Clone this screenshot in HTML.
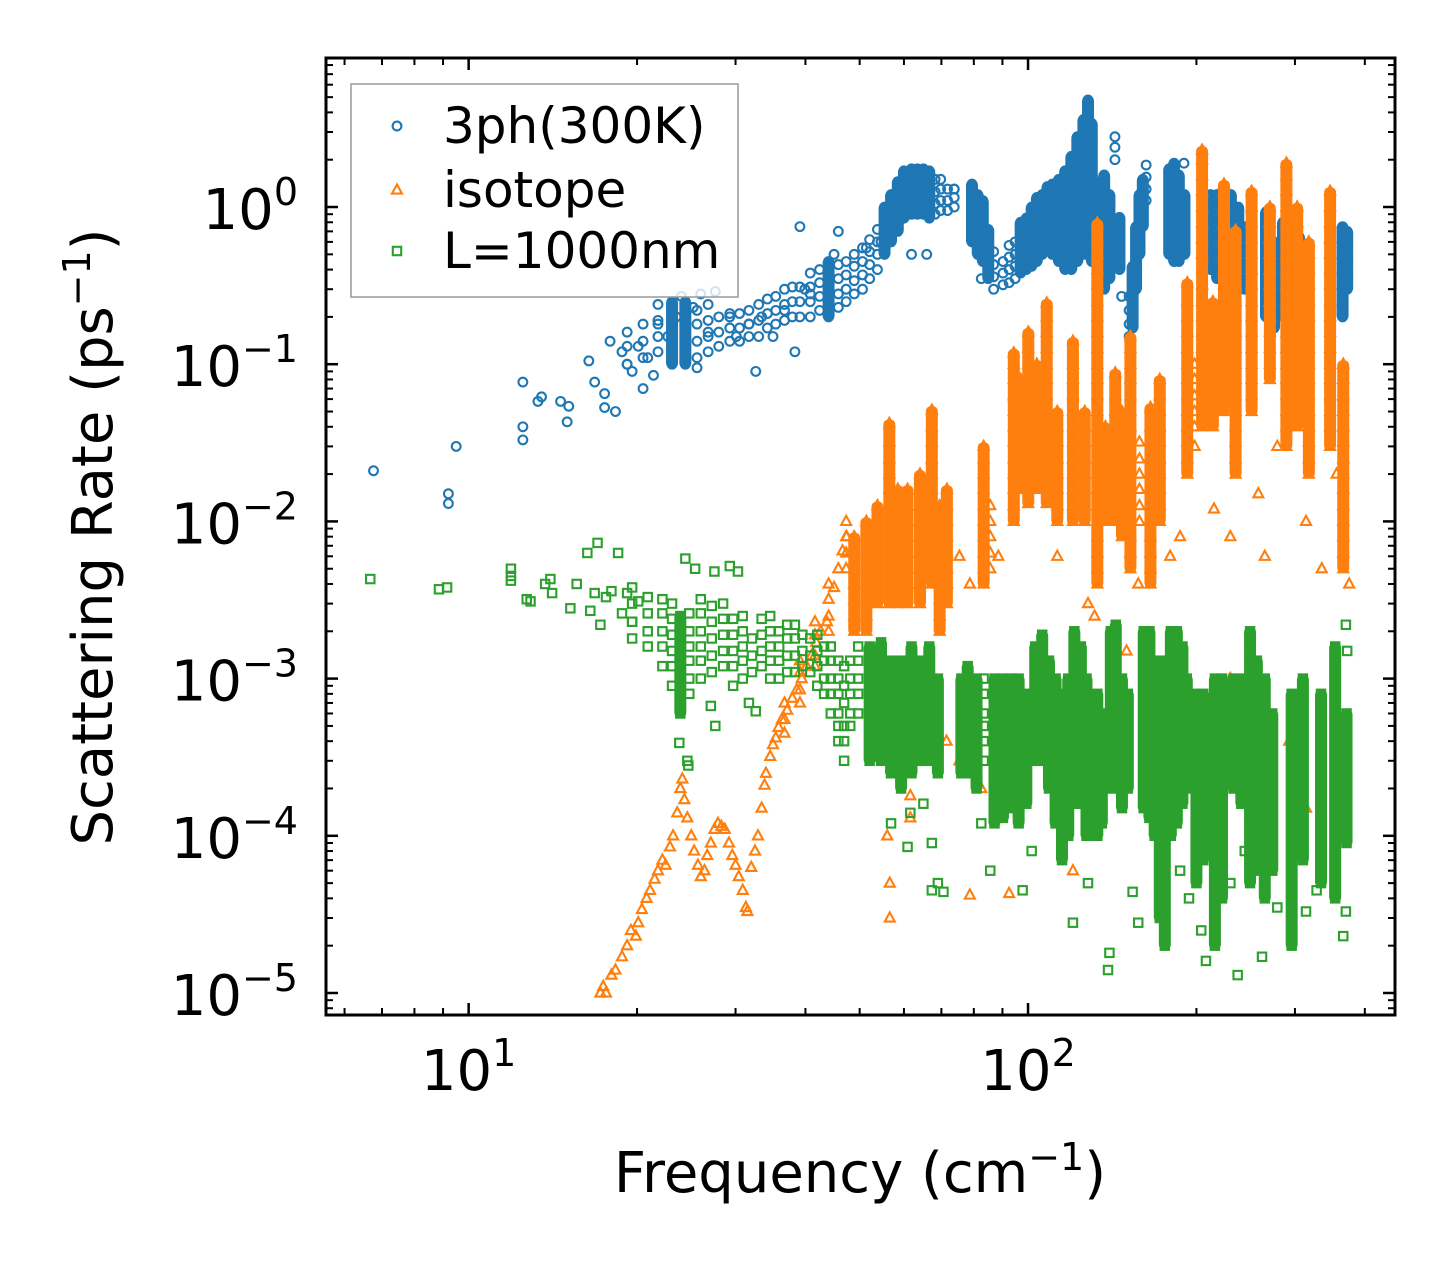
<!DOCTYPE html>
<html><head><meta charset="utf-8"><style>
html,body{margin:0;padding:0;background:#fff}
svg{display:block}
text{font-family:"DejaVu Sans","Liberation Sans",sans-serif;fill:#000}
</style></head><body>
<svg id="chart" width="1455" height="1265" viewBox="0 0 1455 1265" xmlns="http://www.w3.org/2000/svg">
<rect x="0" y="0" width="1455" height="1265" fill="#fff"/>
<g id="marks"></g>
<g id="axes"></g>
<g id="legend"></g>
</svg>
<script>
// ---- data: [frequency cm^-1, rate ps^-1] pairs and [frequency, [rates...]] columns ----
const xTickValues = [10, 100];
const yTickExps = [0, -1, -2, -3, -4, -5];
const seriesNames = ["3ph(300K)", "isotope", "L=1000nm"];

const ph3Pts = [[6.76,0.021],[9.2,0.015],[9.2,0.013],[9.5,0.03],[12.5,0.077],[12.5,0.04],[12.5,0.033],[13.3,0.058],[13.5,0.062],[14.6,0.058],[15,0.043],[15.1,0.054],
[16.4,0.105],[16.8,0.077],[17.5,0.065],[17.9,0.14],[17.5,0.053],[18.3,0.05],[18.8,0.12],[19.2,0.1],[19.6,0.09],[20.1,0.13],[20.5,0.07],[20.9,0.11],[21.4,0.085],[21.8,0.18],
[22.7,0.15],[23.5,0.2],[24,0.27],[24.4,0.12],[25.2,0.23],[25.6,0.095],[26,0.28],[26.8,0.16],[27.6,0.29],[29.3,0.2],[30.1,0.15],[31.7,0.18],[32.6,0.09],[33.4,0.2],[35,0.15],
[36.7,0.22],[38.3,0.12],[39.1,0.75],[39.9,0.3],[40.8,0.28],[45,0.5],[45.8,0.7],[51.4,0.55],[54.6,0.6],[61.9,0.5],[65.9,0.5],[73.8,1.3],[82.5,0.35],[120,0.6],[128,0.5],
[147,0.27],[143,2.8],[143,2.4],[143,2.0],[190,1.9],[251,0.25]];
const ph3Cols = [[19.2,[0.1,0.13,0.16]],[20.5,[0.11,0.14,0.18]],[21.8,[0.12,0.15,0.19,0.24]],[23.1,[0.1,0.13,0.16,0.2,0.25]],[24.4,[0.1,0.13,0.16,0.2,0.25]],
[25.6,[0.11,0.14,0.18,0.22]],[26.8,[0.12,0.15,0.19,0.24]],[28,[0.13,0.16,0.2]],[29.3,[0.14,0.17,0.21]],[30.5,[0.14,0.17,0.21]],[31.7,[0.15,0.18,0.22]],[33,[0.15,0.19,0.24]],
[34.2,[0.17,0.21,0.26]],[35.4,[0.18,0.22,0.27]],[36.7,[0.19,0.24,0.3]],[37.9,[0.2,0.25,0.31]],[39.1,[0.2,0.25,0.31]],[40.8,[0.2,0.25,0.31,0.38]],[42.4,[0.22,0.27,0.33,0.4]],
[44,[0.2,0.25,0.31,0.38,0.45]],[45.8,[0.23,0.28,0.35,0.43]],[47.3,[0.25,0.3,0.37,0.45]],[48.9,[0.28,0.34,0.42,0.5]],[50.6,[0.3,0.37,0.45,0.55]],[52.1,[0.35,0.43,0.52,0.62]],
[53.8,[0.4,0.5,0.6,0.72]],[55.4,[0.5,0.6,0.72,0.86,1.0]],[56.9,[0.6,0.72,0.86,1.0,1.2]],[58.5,[0.7,0.85,1.0,1.2,1.45]],[60,[0.85,1.0,1.2,1.45,1.7]],[61.9,[0.9,1.05,1.25,1.5,1.75]],
[63.4,[0.9,1.05,1.25,1.5,1.75]],[65,[0.9,1.05,1.25,1.5,1.75]],[66.6,[0.85,1.0,1.2,1.45,1.7]],[68.2,[0.9,1.05,1.25,1.5]],[69.8,[0.95,1.1,1.3,1.5]],[71.8,[0.95,1.1,1.3]],[73.8,[1.0,1.15,1.3]],
[79.4,[0.6,0.72,0.86,1.0,1.2,1.4]],[81.3,[0.5,0.6,0.72,0.86,1.0,1.2]],[83,[0.45,0.55,0.65,0.78,0.93,1.1]],[84.9,[0.35,0.42,0.5,0.6,0.72]],[86.8,[0.3,0.36,0.43,0.52]],
[90.2,[0.32,0.38,0.45]],[92.5,[0.33,0.4,0.48,0.57]],[94.8,[0.35,0.42,0.5,0.6]],[97,[0.38,0.46,0.55,0.66,0.8]],[99.3,[0.4,0.48,0.58,0.7,0.85]],[101.5,[0.42,0.5,0.6,0.72,0.86,1.0]],
[103.7,[0.45,0.55,0.66,0.8,0.96,1.15]],[106,[0.5,0.6,0.72,0.86,1.0,1.2]],[108.3,[0.55,0.66,0.8,0.96,1.15,1.35]],[110.5,[0.5,0.6,0.72,0.86,1.0,1.2,1.4]],
[113.5,[0.45,0.55,0.65,0.78,0.93,1.1,1.3,1.5]],[116.5,[0.4,0.5,0.6,0.72,0.86,1.0,1.2,1.45,1.7]],[119.5,[0.4,0.5,0.6,0.72,0.86,1.0,1.2,1.45,1.75,2.1]],
[122.5,[0.45,0.55,0.65,0.78,0.93,1.1,1.3,1.6,1.9,2.3,2.8]],[125.6,[0.5,0.6,0.72,0.86,1.0,1.2,1.45,1.75,2.1,2.5,3.0,3.6]],
[128,[0.5,0.6,0.72,0.86,1.0,1.2,1.45,1.75,2.1,2.5,3.0,3.6,4.2,4.8]],[130,[0.45,0.55,0.65,0.78,0.93,1.1,1.3,1.6,1.9,2.3,2.8,3.4]],[132.3,[0.5,0.6,0.72,0.86,1.0,1.2,1.45]],
[136.8,[0.3,0.36,0.43,0.52,0.62,0.75,0.9,1.1,1.3,1.6]],[139.8,[0.35,0.42,0.5,0.6,0.72,0.86,1.0,1.2]],[145.7,[0.4,0.5,0.6,0.72,0.86]],
[151.6,[0.15,0.18,0.22,0.27]],[153.8,[0.17,0.2,0.24,0.29,0.35,0.42]],[156,[0.3,0.36,0.43,0.52,0.62,0.75]],[158.2,[0.5,0.6,0.72,0.86,1.0,1.2]],[160.4,[0.75,0.9,1.05,1.25,1.5]],[162.6,[1.1,1.3,1.55,1.85]],
[178.8,[0.5,0.6,0.72,0.86,1.0,1.2,1.45,1.75]],[182.4,[0.45,0.55,0.65,0.78,0.93,1.1,1.3,1.6,1.9]],[186,[0.45,0.55,0.65,0.78,0.93,1.1,1.3,1.6]],[190.4,[0.5,0.6,0.72,0.86,1.0,1.2]],
[212,[0.4,0.5,0.6,0.72,0.86,1.0,1.2]],[217.7,[0.35,0.42,0.5,0.6,0.72,0.86,1.0,1.2]],[224,[0.4,0.5,0.6,0.72,0.86,1.0]],[230.5,[0.35,0.42,0.5,0.6,0.72,0.86,1.0,1.2]],
[237.6,[0.4,0.5,0.6,0.72,0.86,1.0]],[244,[0.3,0.36,0.43,0.52,0.62,0.75]],[266.3,[0.2,0.25,0.3,0.37,0.45,0.55,0.65,0.78,0.93]],[275.3,[0.17,0.21,0.26,0.32,0.4,0.5,0.6]],
[285.6,[0.2,0.25,0.3,0.37,0.45,0.55,0.65,0.8]],[296,[0.18,0.22,0.27,0.33,0.4,0.5,0.6]],[305,[0.25,0.3,0.37,0.45,0.55,0.65]],[365,[0.2,0.25,0.3,0.37,0.45,0.55,0.65,0.75]],[372,[0.3,0.37,0.45,0.55,0.7]]];

const isoPts = [[17.2,1.0e-5],[17.4,1.1e-5],[17.6,1.0e-5],[18,1.3e-5],[18.3,1.4e-5],[18.8,1.7e-5],[19.2,2.0e-5],[19.5,2.5e-5],[19.9,2.3e-5],[20.1,2.8e-5],[20.4,3.4e-5],[20.8,4.0e-5],
[21.1,4.5e-5],[21.5,5.3e-5],[21.8,6e-5],[22.2,7e-5],[22.5,6.5e-5],[22.9,8.5e-5],[23.2,1.0e-4],[23.6,1.4e-4],[23.9,2.0e-4],[24.1,2.3e-4],[24.3,1.7e-4],[24.6,1.3e-4],[25,1.0e-4],
[25.3,8e-5],[25.7,6.5e-5],[26,5.5e-5],[26.4,6e-5],[26.7,7.5e-5],[27.1,9e-5],[27.5,1.1e-4],[27.9,1.2e-4],[28.3,1.15e-4],[28.7,1.1e-4],[29.2,9e-5],[29.6,7.5e-5],[30,6.5e-5],
[30.4,5.5e-5],[30.9,4.5e-5],[31.3,3.5e-5],[31.5,3.3e-5],[32,6.3e-5],[32.5,8e-5],[32.9,1.0e-4],[33.4,1.5e-4],[33.8,2.1e-4],[34,2.5e-4],[34.6,3.2e-4],[35,3.8e-4],[35.4,4.2e-4],
[35.8,4.9e-4],[36.3,5.5e-4],[37.1,6.3e-4],[37.9,7.5e-4],[38.6,8.5e-4],[39.4,1.0e-3],[40.2,1.2e-3],[41,1.4e-3],[41.8,1.7e-3],[42.6,2.0e-3],[43.7,2.3e-3],[45,3.8e-3],[45.8,5e-3],
[46.6,6.5e-3],[47.4,8e-3],[56,1e-4],[56.6,5e-5],[56.6,3e-5],[61.6,1.8e-4],[61.6,1.3e-4],[71.5,4e-4],[75.4,3e-4],[82.5,2e-4],[78.7,4.2e-5],[92.5,4.3e-5],[101.5,3e-4],
[112.8,2e-4],[120.3,6e-5],[131.5,2.5e-3],[150,1.5e-3],[179.5,5e-4],[208,2e-4],[230,1e-3],[251,6e-4],[293,4e-4],[314,1.5e-4],[75.4,0.006],[78.7,0.004],[88.5,0.006],
[112.8,0.006],[128,0.003],[157.4,0.004],[179.5,0.006],[187,0.008],[215,0.012],[230,0.008],[258,0.015],[265,0.006],[279,0.03],[314,0.01],[335,0.005],[356,0.02],[375,0.004]];
const isoCols = [[36.7,[4.5e-4,5.5e-4,7e-4]],[39.1,[7e-4,8.5e-4,1.1e-3,1.3e-3]],[41.6,[1.2e-3,1.4e-3,1.9e-3,2.3e-3]],[44,[2e-3,2.5e-3,3.2e-3,4e-3]],
[47.3,[0.005,0.0063,0.008,0.01]],[48.9,[0.002,0.0025,0.0032,0.004,0.005,0.0063,0.008]],[51.4,[0.002,0.0025,0.0032,0.004,0.005,0.0063,0.008,0.01]],
[53.8,[0.003,0.004,0.005,0.0063,0.008,0.01,0.0126]],[56.5,[0.003,0.004,0.005,0.0063,0.008,0.01,0.0126,0.016,0.02,0.025,0.032,0.042]],
[58.5,[0.003,0.004,0.005,0.0063,0.008,0.01,0.0126,0.016]],[60.9,[0.003,0.004,0.005,0.0063,0.008,0.01,0.0126,0.016]],[64.1,[0.003,0.004,0.005,0.0063,0.008,0.01,0.0126,0.016,0.02]],
[67.3,[0.004,0.005,0.0063,0.008,0.01,0.0126,0.016,0.02,0.025,0.032,0.04,0.051]],[69.5,[0.002,0.0025,0.0032,0.004,0.005,0.0063,0.008,0.01,0.0126]],
[71.6,[0.003,0.004,0.005,0.0063,0.008,0.01,0.0126,0.016]],[83.3,[0.004,0.005,0.0063,0.008,0.01,0.0126,0.016,0.02,0.025,0.03]],[85.6,[0.005,0.0063,0.008,0.01,0.0126]],
[94.3,[0.01,0.0126,0.016,0.02,0.025,0.032,0.04,0.05,0.063,0.08,0.1,0.118]],[97,[0.016,0.02,0.025,0.032,0.04,0.05,0.063,0.08]],
[100.1,[0.013,0.016,0.02,0.025,0.032,0.04,0.05,0.063,0.08,0.1,0.126,0.16]],[103.7,[0.016,0.02,0.025,0.032,0.04,0.05,0.063,0.08,0.1]],
[108,[0.013,0.016,0.02,0.025,0.032,0.04,0.05,0.063,0.08,0.1,0.126,0.16,0.2,0.245]],[112.8,[0.01,0.0126,0.016,0.02,0.025,0.032,0.04,0.05]],
[120.3,[0.01,0.0126,0.016,0.02,0.025,0.032,0.04,0.05,0.063,0.08,0.1,0.14]],[126.3,[0.01,0.0126,0.016,0.02,0.025,0.032,0.04,0.05]],
[133,[0.004,0.005,0.0063,0.008,0.01,0.0126,0.016,0.02,0.025,0.032,0.04,0.05,0.063,0.08,0.1,0.126,0.16,0.2,0.25,0.32,0.4,0.5,0.63,0.79]],
[137.5,[0.01,0.0126,0.016,0.02,0.025,0.032,0.04]],[143.2,[0.01,0.0126,0.016,0.02,0.025,0.032,0.04,0.05,0.063,0.088]],[147.2,[0.008,0.01,0.0126,0.016,0.02,0.025,0.032,0.04,0.05]],
[152.4,[0.005,0.0063,0.008,0.01,0.0126,0.016,0.02,0.025,0.032,0.04,0.05,0.063,0.08,0.1,0.126,0.15]],[158.2,[0.01,0.0126,0.016,0.02,0.025,0.032]],
[165.5,[0.004,0.005,0.0063,0.008,0.01,0.0126,0.016,0.02,0.025,0.032,0.04,0.053]],[172,[0.01,0.0126,0.016,0.02,0.025,0.032,0.04,0.05,0.063,0.08]],
[192.6,[0.02,0.025,0.032,0.04,0.05,0.063,0.08,0.1,0.126,0.16,0.2,0.25,0.33]],[198.5,[0.03,0.04,0.05,0.063,0.08,0.1]],
[204.7,[0.04,0.05,0.063,0.08,0.1,0.126,0.16,0.2,0.25,0.32,0.4,0.5,0.63,0.79,1.0,1.26,1.58,2.0,2.3]],[214,[0.04,0.05,0.063,0.08,0.1,0.126,0.16,0.2,0.25]],
[224,[0.05,0.063,0.08,0.1,0.126,0.16,0.2,0.25,0.32,0.4,0.5,0.63,0.79,1.0,1.26,1.4]],[235,[0.02,0.025,0.032,0.04,0.05,0.063,0.08,0.1,0.126,0.16,0.2,0.25,0.32,0.4,0.5,0.63,0.71]],
[251,[0.05,0.063,0.08,0.1,0.126,0.16,0.2,0.25,0.32,0.4,0.5,0.63,0.79,1.0,1.26]],[270.6,[0.08,0.1,0.126,0.16,0.2,0.25,0.32,0.4,0.5,0.63,0.79,1.0]],
[289.6,[0.03,0.04,0.05,0.063,0.08,0.1,0.126,0.16,0.2,0.25,0.32,0.4,0.5,0.63,0.79,1.0,1.26,1.58,1.9]],[302.8,[0.04,0.05,0.063,0.08,0.1,0.126,0.16,0.2,0.25,0.32,0.4,0.5,0.63,0.79,1.0]],
[317.7,[0.02,0.025,0.032,0.04,0.05,0.063,0.08,0.1,0.126,0.16,0.2,0.25,0.32,0.4,0.5,0.6]],[346.7,[0.03,0.04,0.05,0.063,0.08,0.1,0.126,0.16,0.2,0.25,0.32,0.4,0.5,0.63,0.79,1.0,1.26]],
[366,[0.005,0.0063,0.008,0.01,0.0126,0.016,0.02,0.025,0.032,0.04,0.05,0.063,0.08,0.1]]];

const bndPts = [[6.67,4.3e-3],[8.85,3.7e-3],[9.15,3.8e-3],[11.9,5e-3],[11.9,4.5e-3],[11.9,4.2e-3],[12.7,3.2e-3],[12.9,3.1e-3],[13.7,4e-3],[14,4.3e-3],[14.1,3.5e-3],[15.2,2.8e-3],
[15.6,4e-3],[16.3,6.3e-3],[16.5,2.7e-3],[16.8,3.5e-3],[17,7.3e-3],[17.2,2.2e-3],[17.6,3.3e-3],[18,3.6e-3],[18.5,6.3e-3],[18.8,2.6e-3],[19.2,3.5e-3],[19.6,2.3e-3],[20.1,3.1e-3],
[24.4,5.8e-3],[25.4,5e-3],[27.5,4.8e-3],[30.3,4.8e-3],[29.3,5.2e-3],[23.8,3.9e-4],[24.6,3e-4],[24.7,2.8e-4],[27.6,5e-4],[27.1,6.7e-4],[31.7,7e-4],[32.6,6.2e-4],
[56.9,1.2e-4],[60.9,8.5e-5],[61.6,1.4e-4],[65,1.6e-4],[67.3,9e-5],[69,5e-5],[70.6,4.4e-5],[67.3,4.5e-5],[82.5,1.2e-4],[85.6,6e-5],[97.8,4.5e-5],[101.5,8e-5],[120.3,2.8e-5],
[128,5e-5],[139,1.4e-5],[139.8,1.8e-5],[153.8,4.4e-5],[157.4,2.8e-5],[187,6e-5],[194,4e-5],[204,2.5e-5],[208,1.6e-5],[230,5e-5],[237,1.3e-5],[244,8e-5],[262,1.7e-5],
[279,3.5e-5],[314,3.3e-5],[328,4.5e-5],[366,2.3e-5],[370,3.3e-5],[372,1.5e-3],[370,2.2e-3]];
const bndCols = [[19.6,[0.0018,0.0023,0.003,0.0038]],[20.9,[0.0016,0.002,0.0026,0.0033]],[22.2,[0.0012,0.0016,0.002,0.0026,0.0032]],[23.1,[0.0009,0.0012,0.0015,0.0019,0.0024,0.003]],
[23.9,[0.0006,0.0008,0.001,0.0013,0.0016,0.002,0.0025]],[24.8,[0.0008,0.001,0.0013,0.0016,0.002,0.0026]],[26,[0.001,0.0013,0.0016,0.002,0.0026,0.0032]],
[27.2,[0.0011,0.0014,0.0018,0.0023,0.0029]],[28.5,[0.0012,0.0015,0.0019,0.0024,0.003]],[29.7,[0.0009,0.0012,0.0015,0.0019,0.0024]],[30.9,[0.001,0.0013,0.0016,0.002,0.0025]],
[32.1,[0.0011,0.0014,0.0018]],[33.4,[0.0012,0.0015,0.0019,0.0024]],[34.6,[0.001,0.0013,0.0016,0.002,0.0025]],[35.9,[0.001,0.0013,0.0016,0.002]],[37.1,[0.0011,0.0014,0.0018,0.0022]],
[38.3,[0.0011,0.0014,0.0018,0.0022]],[39.5,[0.0012,0.0015,0.0019]],[40.8,[0.0011,0.0014,0.0018]],[42,[0.0009,0.0012,0.0015,0.0019]],[43.2,[0.0008,0.001,0.0013,0.0016]],
[44.4,[0.0006,0.0008,0.001,0.0013,0.0016]],[45.8,[0.0004,0.0005,0.0006,0.0008,0.001,0.0013]],[46.9,[0.0003,0.0004,0.0005,0.0007,0.0009,0.0012]],[48.1,[0.0005,0.0006,0.0008,0.001,0.0013]],
[49.7,[0.0006,0.0008,0.001,0.0013,0.0016]],[52.1,[0.0003,0.0004,0.0005,0.0006,0.0008,0.001,0.0013,0.0016]],[54.6,[0.0003,0.0004,0.0005,0.0006,0.0008,0.001,0.0013,0.0017]],
[56.9,[0.00025,0.0003,0.0004,0.0005,0.0006,0.0008,0.001,0.0013]],[59.3,[0.0002,0.00025,0.0003,0.0004,0.0005,0.0006,0.0008,0.001,0.0013]],
[61.9,[0.00025,0.0003,0.0004,0.0005,0.0006,0.0008,0.001,0.0013,0.0016]],[64.3,[0.0003,0.0004,0.0005,0.0006,0.0008,0.001,0.0013]],
[66.6,[0.0003,0.0004,0.0005,0.0006,0.0008,0.001,0.0013,0.0016]],[69,[0.00025,0.0003,0.0004,0.0005,0.0006,0.0008,0.001]],
[76,[0.00025,0.0003,0.0004,0.0005,0.0006,0.0008,0.001]],[78,[0.00025,0.0003,0.0004,0.0005,0.0006,0.0008,0.001,0.0012]],[80.9,[0.0002,0.00025,0.0003,0.0004,0.0005,0.0006,0.0008,0.001]],
[83.3,[0.0003,0.0004,0.0005,0.0006,0.0008,0.001]],[87.1,[0.00012,0.00016,0.0002,0.00025,0.0003,0.0004,0.0005,0.0006,0.0008,0.001]],
[90.2,[0.00013,0.00016,0.0002,0.00025,0.0003,0.0004,0.0005,0.0006,0.0008,0.001]],[93.3,[0.00015,0.0002,0.00025,0.0003,0.0004,0.0005,0.0006,0.0008,0.001]],
[96.2,[0.00012,0.00016,0.0002,0.00025,0.0003,0.0004,0.0005,0.0006,0.0008,0.001]],[99.3,[0.00016,0.0002,0.00025,0.0003,0.0004,0.0005,0.0006,0.0008]],
[103,[0.0003,0.0004,0.0005,0.0006,0.0008,0.001,0.0013,0.0016]],[106,[0.0003,0.0004,0.0005,0.0006,0.0008,0.001,0.0013,0.0016,0.0019]],
[109,[0.0002,0.00025,0.0003,0.0004,0.0005,0.0006,0.0008,0.001,0.0013]],[112,[0.00012,0.00016,0.0002,0.00025,0.0003,0.0004,0.0005,0.0006,0.0008,0.001]],
[115,[0.00007,0.00009,0.00012,0.00016,0.0002,0.00025,0.0003,0.0004,0.0005,0.0006,0.0008]],[118,[0.0001,0.00013,0.00016,0.0002,0.00025,0.0003,0.0004,0.0005,0.0006,0.0008,0.001]],
[121,[0.00016,0.0002,0.00025,0.0003,0.0004,0.0005,0.0006,0.0008,0.001,0.0013,0.0016,0.002]],[124.3,[0.00016,0.0002,0.00025,0.0003,0.0004,0.0005,0.0006,0.0008,0.001,0.0013,0.0016]],
[127.2,[0.0001,0.00013,0.00016,0.0002,0.00025,0.0003,0.0004,0.0005,0.0006,0.0008,0.001]],[130,[0.0001,0.00013,0.00016,0.0002,0.00025,0.0003,0.0004,0.0005,0.0006]],
[133,[0.0001,0.00013,0.00016,0.0002,0.00025,0.0003,0.0004,0.0005,0.0006,0.0008]],[135.5,[0.00012,0.00016,0.0002,0.00025,0.0003,0.0004,0.0005,0.0006]],
[140.6,[0.0002,0.00025,0.0003,0.0004,0.0005,0.0006,0.0008,0.001,0.0013,0.0016,0.002]],[143.5,[0.0003,0.0004,0.0005,0.0006,0.0008,0.001,0.0013,0.0016,0.002,0.0022]],
[147.2,[0.00015,0.0002,0.00025,0.0003,0.0004,0.0005,0.0006,0.0008,0.001]],[150.8,[0.0002,0.00025,0.0003,0.0004,0.0005,0.0006,0.0008]],
[161,[0.00015,0.0002,0.00025,0.0003,0.0004,0.0005,0.0006,0.0008,0.001,0.0013,0.0016,0.002]],[164.8,[0.00013,0.00016,0.0002,0.00025,0.0003,0.0004,0.0005,0.0006,0.0008,0.001,0.0013,0.0016,0.002]],
[168.4,[0.0001,0.00013,0.00016,0.0002,0.00025,0.0003,0.0004,0.0005,0.0006,0.0008,0.001,0.0013]],
[172,[0.00003,0.00004,0.00005,0.00007,0.00009,0.00012,0.00016,0.0002,0.00025,0.0003,0.0004,0.0005,0.0006,0.0008,0.001]],
[175.6,[0.00002,0.000025,0.00003,0.00004,0.00005,0.00007,0.00009,0.00012,0.00016,0.0002,0.00025,0.0003,0.0004,0.0005,0.0006,0.0008,0.001,0.0013]],
[180,[0.0001,0.00013,0.00016,0.0002,0.00025,0.0003,0.0004,0.0005,0.0006,0.0008,0.001,0.0013,0.0016,0.002]],
[184.5,[0.00012,0.00016,0.0002,0.00025,0.0003,0.0004,0.0005,0.0006,0.0008,0.001,0.0013,0.0016,0.002]],
[188.8,[0.00016,0.0002,0.00025,0.0003,0.0004,0.0005,0.0006,0.0008,0.001,0.0013,0.0016]],[192.2,[0.0002,0.00025,0.0003,0.0004,0.0005,0.0006,0.0008,0.001]],
[200,[0.00005,0.00007,0.00009,0.00012,0.00016,0.0002,0.00025,0.0003,0.0004,0.0005,0.0006,0.0008]],[205.7,[0.00007,0.00009,0.00012,0.00016,0.0002,0.00025,0.0003,0.0004,0.0005,0.0006,0.0008]],
[215.8,[0.00002,0.000025,0.00003,0.00004,0.00005,0.00007,0.00009,0.00012,0.00016,0.0002,0.00025,0.0003,0.0004,0.0005,0.0006,0.0008,0.001]],
[222.2,[0.00004,0.00005,0.00007,0.00009,0.00012,0.00016,0.0002,0.00025,0.0003,0.0004,0.0005,0.0006,0.0008,0.001]],
[233,[0.0002,0.00025,0.0003,0.0004,0.0005,0.0006,0.0008,0.001]],[240.6,[0.00016,0.0002,0.00025,0.0003,0.0004,0.0005,0.0006,0.0008,0.001]],
[249.4,[0.00005,0.00007,0.00009,0.00012,0.00016,0.0002,0.00025,0.0003,0.0004,0.0005,0.0006,0.0008,0.001,0.0013,0.0016,0.002]],
[256.5,[0.00006,0.00008,0.0001,0.00013,0.00016,0.0002,0.00025,0.0003,0.0004,0.0005,0.0006,0.0008,0.001,0.0013]],
[265,[0.00004,0.00005,0.00007,0.00009,0.00012,0.00016,0.0002,0.00025,0.0003,0.0004,0.0005,0.0006,0.0008,0.001]],
[273.3,[0.00006,0.00008,0.0001,0.00013,0.00016,0.0002,0.00025,0.0003,0.0004,0.0005,0.0006]],
[296,[0.00002,0.000025,0.00003,0.00004,0.00005,0.00007,0.00009,0.00012,0.00016,0.0002,0.00025,0.0003,0.0004,0.0005,0.0006,0.0008]],
[310,[0.00007,0.00009,0.00012,0.00016,0.0002,0.00025,0.0003,0.0004,0.0005,0.0006,0.0008,0.001]],
[334,[0.00005,0.00007,0.00009,0.00012,0.00016,0.0002,0.00025,0.0003,0.0004,0.0005,0.0006,0.0008]],
[354,[0.00004,0.00005,0.00007,0.00009,0.00012,0.00016,0.0002,0.00025,0.0003,0.0004,0.0005,0.0006,0.0008,0.001,0.0013,0.0016]],
[371,[0.00009,0.00012,0.00016,0.0002,0.00025,0.0003,0.0004,0.0005,0.0006]]];
</script>
<script>
const NS = "http://www.w3.org/2000/svg";
const X0 = 326, X1 = 1395, Y0 = 58, Y1 = 1015;
const LX0 = 0.745, LX1 = 2.656;
const LY0 = -5.14, LY1 = 0.948;
function xs(v){ return X0 + (Math.log10(v) - LX0) / (LX1 - LX0) * (X1 - X0); }
function ys(v){ return Y1 - (Math.log10(v) - LY0) / (LY1 - LY0) * (Y1 - Y0); }
function mk(tag, attrs, parent){
  const e = document.createElementNS(NS, tag);
  for (const k in attrs) e.setAttribute(k, attrs[k]);
  parent.appendChild(e); return e;
}
const marks = document.getElementById('marks');
const colors = ["#1f77b4", "#ff7f0e", "#2ca02c"];
const bandMinCount = [5, 7, 7];
function marker(type, cx, cy, color, parent){
  if (type === 0) return mk('circle', {cx:cx, cy:cy, r:4.4, fill:'none', stroke:color, 'stroke-width':2.1}, parent);
  if (type === 1) return mk('polygon', {points:`${cx},${cy-5.6} ${cx-5},${cy+3.6} ${cx+5},${cy+3.6}`, fill:'none', stroke:color, 'stroke-width':2.1}, parent);
  return mk('rect', {x:cx-4.2, y:cy-4.2, width:8.4, height:8.4, fill:'none', stroke:color, 'stroke-width':2.1}, parent);
}
const seriesPts = [ph3Pts, isoPts, bndPts];
const seriesCols = [ph3Cols, isoCols, bndCols];
const seriesKeys = ["series-3ph", "series-isotope", "series-boundary"];
seriesPts.forEach((s, i) => {
  const g = mk('g', {}, marks);
  
  
  const draw = (f, r) => {
    const m = marker(i, xs(f), ys(r), colors[i], g);
    
    
  };
  seriesCols[i].forEach(c => {
    const rs = c[1];
    if (rs.length >= bandMinCount[i]) {
      const yTop = ys(Math.max(...rs)), yBot = ys(Math.min(...rs));
      const band = mk('rect', {x:xs(c[0])-6, y:yTop-4, width:12, height:(yBot-yTop)+8, rx:5, fill:colors[i]}, g);
      
      
    }
    rs.forEach(r => draw(c[0], r));
  });
  s.forEach(p => draw(p[0], p[1]));
});
// axes
const ax = document.getElementById('axes');
const frame = mk('rect', {x:X0, y:Y0, width:X1-X0, height:Y1-Y0, fill:'none', stroke:'#000', 'stroke-width':3}, ax);


function tick(x1,y1,x2,y2,w){ mk('line',{x1:x1,y1:y1,x2:x2,y2:y2,stroke:'#000','stroke-width':w},ax); }
for (let d = 1; d <= 100; d *= 10) for (let m = 1; m <= 9; m++) {
  const lv = Math.log10(m*d); if (lv < LX0 || lv > LX1) continue;
  const x = xs(m*d), L = (m === 1) ? 12 : 7, w = (m===1)?2.5:2;
  tick(x, Y1, x, Y1-L, w); tick(x, Y0, x, Y0+L, w);
}
xTickValues.forEach(v => {
  const t = mk('text', {x:xs(v), y:1090, 'font-size':56, 'text-anchor':'middle'}, ax);
  
  
  t.textContent = '10';
  const s = mk('tspan', {dy:-24, 'font-size':38}, t); s.textContent = String(Math.round(Math.log10(v)));
});
for (let e = -6; e <= 0; e++) for (let m = 1; m <= 9; m++) {
  const v = m*Math.pow(10,e); const lv = Math.log10(v);
  if (lv < LY0 || lv > LY1) continue;
  const y = ys(v), L = (m === 1) ? 12 : 7, w = (m===1)?2.5:2;
  tick(X0, y, X0+L, y, w); tick(X1, y, X1-L, y, w);
}
yTickExps.forEach(e => {
  const y = ys(Math.pow(10,e));
  const t = mk('text', {x:298, y:y+22, 'font-size':56, 'text-anchor':'end'}, ax);
  
  
  t.textContent = '10';
  const s = mk('tspan', {dy:-24, 'font-size':38}, t); s.textContent = e < 0 ? '\u2212' + (-e) : String(e);
});
const xl = mk('text', {x:860, y:1192, 'font-size':56, 'text-anchor':'middle'}, ax);


xl.innerHTML = 'Frequency (cm<tspan dy="-22" font-size="38">\u22121</tspan><tspan dy="22">)</tspan>';
const yl = mk('text', {x:0, y:0, 'font-size':56, 'text-anchor':'middle', transform:'translate(112,537) rotate(-90)'}, ax);


yl.innerHTML = 'Scattering Rate (ps<tspan dy="-22" font-size="38">\u22121</tspan><tspan dy="22">)</tspan>';
// legend
const lg = document.getElementById('legend');
mk('rect', {x:351, y:84, width:387, height:213, fill:'#fff', 'fill-opacity':0.8, stroke:'#999', 'stroke-width':1.5}, lg);
seriesNames.forEach((n, i) => {
  const y = [126, 190, 251][i];
  const g = mk('g', {}, lg);
  
  
  marker(i, 397, y, colors[i], g);
  const t = mk('text', {x:443, y:y+17, 'font-size':50}, g);
  t.textContent = n;
});
</script>
</body></html>
